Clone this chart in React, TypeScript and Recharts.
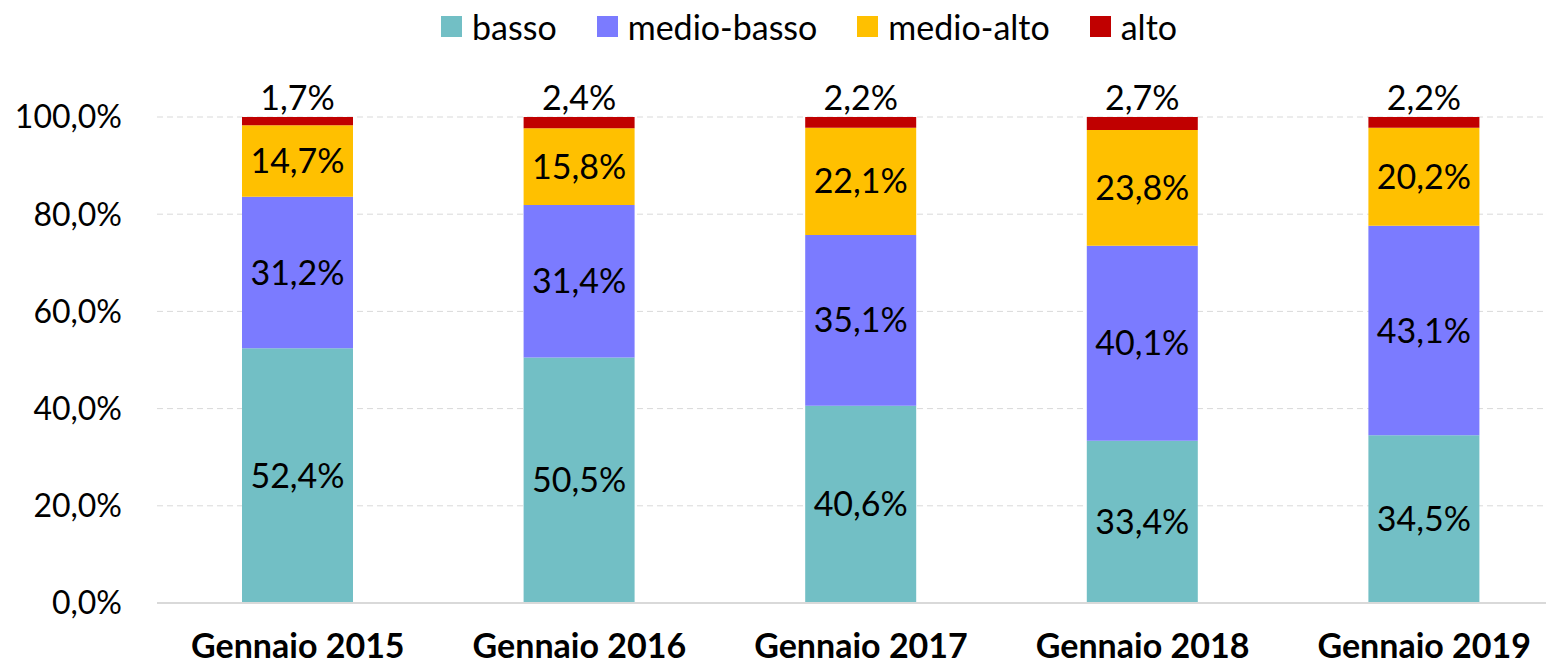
import { BarChart, Bar, XAxis, YAxis, CartesianGrid, LabelList } from "recharts";

// categorie e serie (quota % per fascia)
const periodi = ["Gennaio 2015", "Gennaio 2016", "Gennaio 2017", "Gennaio 2018", "Gennaio 2019"];
const basso = [52.4, 50.5, 40.6, 33.4, 34.5];
const medioBasso = [31.2, 31.4, 35.1, 40.1, 43.1];
const medioAlto = [14.7, 15.8, 22.1, 23.8, 20.2];
const alto = [1.7, 2.4, 2.2, 2.7, 2.2];
const yTicks = [0, 20, 40, 60, 80, 100];

const serie = [
  { key: "basso", color: "#72BFC5" },
  { key: "medio-basso", color: "#7B7BFF" },
  { key: "medio-alto", color: "#FFC000" },
  { key: "alto", color: "#C00000" },
];

const data = periodi.map((p, i) => ({
  periodo: p,
  basso: basso[i],
  "medio-basso": medioBasso[i],
  "medio-alto": medioAlto[i],
  alto: alto[i],
}));

const FONT = "Lato, 'Open Sans', sans-serif";
const fmt = (v: any) => `${Number(v).toFixed(1).replace(".", ",")}%`;

export default function App() {
  return (
    <div style={{ position: "absolute", left: 0, top: 0, width: 1546, height: 666, overflow: "hidden", fontFamily: FONT, background: "#fff" }}>
      {/* legenda in alto */}
      <div style={{ position: "absolute", top: 6, left: 441, display: "flex", alignItems: "center", fontSize: 34, color: "#000" }}>
        {serie.map((s) => (
          <div key={s.key} style={{ display: "flex", alignItems: "center", marginRight: 40 }}>
            <span style={{ width: 21, height: 21, background: s.color, display: "inline-block", marginRight: 10 }} />
            <span>{s.key}</span>
          </div>
        ))}
      </div>
      {/* il grafico è più largo della pagina: l'ultima categoria sborda come nell'originale */}
      <BarChart width={1565} height={666} data={data} margin={{ top: 117, right: 0, bottom: 0, left: 0 }}>
        <CartesianGrid vertical={false} stroke="#d9d9d9" strokeDasharray="6 4" />
        <XAxis
          dataKey="periodo"
          height={63}
          tickLine={false}
          tickSize={0}
          tickMargin={31}
          axisLine={{ stroke: "#d9d9d9", strokeWidth: 2 }}
          tick={{ fontSize: 34, fontWeight: 700, fill: "#000", fontFamily: FONT }}
        />
        <YAxis
          width={157}
          domain={[0, 100]}
          allowDataOverflow
          ticks={yTicks}
          tickFormatter={fmt}
          axisLine={false}
          tickLine={false}
          tickSize={0}
          tickMargin={35}
          tick={{ fontSize: 32, fill: "#000", fontFamily: FONT }}
        />
        {serie.map((s) => (
          <Bar key={s.key} dataKey={s.key} stackId="a" fill={s.color} barSize={111} isAnimationActive={false}>
            <LabelList
              dataKey={s.key}
              position={s.key === "alto" ? "top" : "center"}
              offset={7}
              formatter={fmt}
              style={{ fontSize: 34, fill: "#000", fontFamily: FONT }}
            />
          </Bar>
        ))}
      </BarChart>
    </div>
  );
}
